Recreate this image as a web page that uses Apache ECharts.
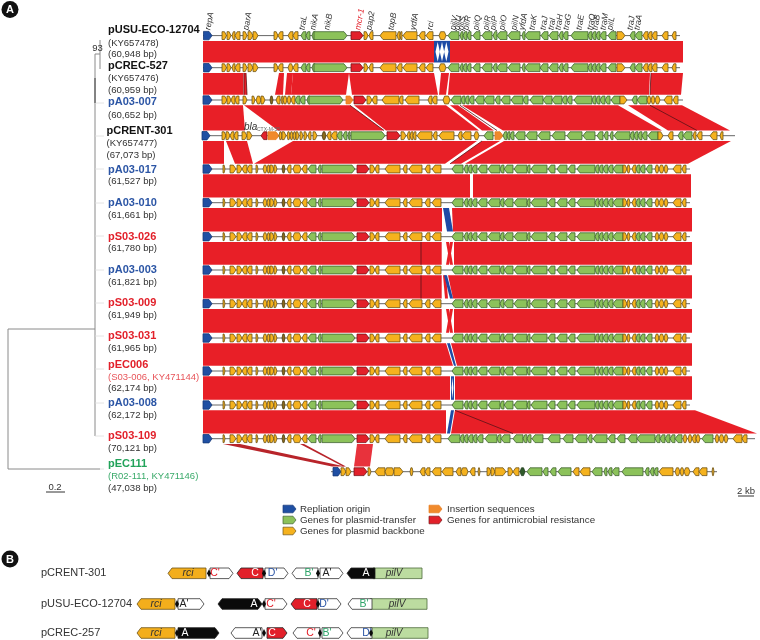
<!DOCTYPE html>
<html><head><meta charset="utf-8">
<style>html,body{margin:0;padding:0;background:#fff}#c{width:760px;height:640px}</style>
<script src="https://cdn.jsdelivr.net/npm/echarts@6/dist/echarts.min.js"></script>
</head><body><div id="c"></div>
<script>
// ---- plasmid tracks (position along map, in figure units) ----
const trackNames = ["pUSU-ECO-12704","pCREC-527","pA03-007","pCRENT-301","pA03-017","pA03-010","pS03-026","pA03-003","pS03-009","pS03-031","pEC006","pA03-008","pS03-109","pEC111"];
const trackAcc = ["(KY657478)","(KY657476)","","(KY657477)","","","","","","","(S03-006, KY471144)","","","(R02-111, KY471146)"];
const trackLen = ["(60,948 bp)","(60,959 bp)","(60,652 bp)","(67,073 bp)","(61,527 bp)","(61,661 bp)","(61,780 bp)","(61,821 bp)","(61,949 bp)","(61,965 bp)","(62,174 bp)","(62,172 bp)","(70,121 bp)","(47,038 bp)"];
const trackGroup = ["k","k","b","k","b","b","r","b","r","r","r","b","r","g"];
const trackY = [35.6,67.7,100,135.7,169,202.7,236.7,270,303.7,338,371,405,438.7,471.7];
const trackSpan = [[203,680],[203,680],[203,683],[202,735],[203,690],[203,690],[203,690],[203,690],[203,690],[203,690],[203,690],[203,690],[203,755],[331,717]];
const nameY = [30,66,102,131,170,202.5,236.5,270,302.5,336,365,402.5,436,464];
const accY = [43,78.5,0,143.5,0,0,0,0,0,0,377.5,0,0,476];
const lenY = [54,90,115,155,181.5,215,248.5,282.5,315,348,388.5,415,448,488];
const nameX = [108,108,108,106.5,108,108,108,108,108,108,108,108,108,108];

// genes: [type, start, end, direction]
const genesUsuA = [["b",203.5,212,1],["o",222,226.5,1],["o",227,231,1],["o",232,235,-1],["o",235,240,-1],["o",243,247,1],["o",248,253,1],["o",253,258,1],["o",274,278,1],["o",278,283,-1],["o",288,293,-1],["o",293,298,-1],["g",301,306,-1],["g",306,310,-1],["g",312,315,-1],["g",314,347,1],["r",351,363,1],["o",364,368,1],["o",369,373,-1],["o",380,396,-1],["o",397,400,-1],["o",400,402,-1],["o",403,417,-1],["o",419,425,-1],["o",426,433,-1],["o",439,446,0],["g",448,459,-1],["g",460,463,-1],["g",463,467,-1],["g",467,471,-1],["g",473,480,-1],["g",482,492,-1],["g",493,497,-1],["g",497,507,-1],["g",508,520,-1],["g",522,525,-1],["g",525,540,-1],["g",541,548,-1],["g",549,558,-1],["g",559,563,-1],["g",563,568,-1],["g",571,588,-1],["g",588,592,-1],["g",592,596,-1],["g",596,600,-1],["g",600,606,-1],["g",608,616,-1],["o",617,625,1],["g",630,635,-1],["g",635,642,-1],["o",643,648,-1],["o",648,652,-1],["o",652,657,-1],["o",662,668,-1],["o",672,676,-1]];
const genesCrec = [["b",203.5,212,1],["o",222,226.5,1],["o",227,231,1],["o",232,235,-1],["o",235,240,-1],["o",243,247,1],["o",248,253,1],["o",253,258,1],["o",274,278,1],["o",278,283,-1],["o",288,293,0],["o",293,298,-1],["g",301,306,-1],["g",306,310,-1],["g",312,315,-1],["g",314,347,1],["r",351,363,1],["o",364,368,1],["o",369,373,-1],["o",380,396,-1],["o",397,402,-1],["o",403,417,-1],["o",419,425,-1],["o",426,433,-1],["o",439,446,0],["g",448,459,-1],["g",460,463,-1],["g",463,467,-1],["g",467,471,-1],["g",473,480,-1],["g",482,492,-1],["g",493,497,-1],["g",497,507,-1],["g",508,520,-1],["g",522,525,-1],["g",540,548,-1],["g",525,540,-1],["g",549,558,-1],["g",559,563,-1],["g",563,568,-1],["g",571,588,-1],["g",588,592,-1],["g",592,596,-1],["g",596,600,-1],["g",600,606,-1],["g",608,616,-1],["o",617,625,1],["g",630,635,-1],["g",635,642,-1],["o",643,648,-1],["o",648,652,-1],["o",652,657,-1],["o",662,668,-1],["o",672,676,-1]];
const genesA007 = [["b",203,212,1],["o",222,227,1],["o",227,231,1],["o",231,235,-1],["o",235,239,-1],["o",243,247,1],["o",252,255,1],["o",256,261,0],["o",261,265,1],["d",270,273,0],["o",276,280,-1],["o",281,283,-1],["o",283,287,0],["o",287,291,0],["o",291,295,-1],["g",295,300,-1],["g",300,305,-1],["g",307,310,-1],["g",309,343,1],["i",346,353,1],["r",354,366,1],["o",367,372,1],["o",372,377,-1],["o",382,399,-1],["o",399,403,-1],["o",405,419,-1],["o",428,432,-1],["o",432,437,-1],["o",443,450,0],["g",451,461,-1],["g",461,465,-1],["g",465,469,-1],["g",469,474,-1],["g",475,484,-1],["g",484,494,-1],["g",495,500,-1],["g",501,510,-1],["g",511,523,-1],["g",523,528,-1],["g",530,543,-1],["g",543,552,-1],["g",552,562,-1],["g",562,567,-1],["g",567,572,-1],["g",574,592,-1],["g",592,596,-1],["g",596,600,-1],["g",600,605,-1],["g",605,610,-1],["g",611,620,-1],["o",620,627,1],["g",632,637,-1],["g",637,647,-1],["o",647,651,0],["o",651,655,0],["o",655,660,0],["o",664,672,-1],["o",673,678,-1]];
const genesCrent = [["b",202,210,1],["o",222,226,1],["o",226,230,1],["o",230,234,-1],["o",234,238,-1],["o",242,247,1],["o",247,252,1],["r",261,267,-1],["i",268,279,1],["o",279,282,0],["o",282,286,1],["o",287,290,0],["o",290,293,0],["o",293,296,0],["o",296,299,1],["o",300,303,1],["o",304,307,1],["o",308,311,-1],["o",313,317,1],["d",322,326,0],["o",327,331,-1],["o",331,337,-1],["g",337,342,-1],["g",343,347,-1],["g",348,350,-1],["g",351,385,1],["r",387,400,1],["o",401,406,1],["o",407,410,-1],["o",410,413,-1],["o",413,416,-1],["o",417,432,-1],["o",433,437,-1],["o",439,454,-1],["o",458,462,-1],["o",462,471,-1],["o",474,479,0],["g",484,493,-1],["i",495,503,1],["g",503,507,-1],["g",507,510,-1],["g",510,514,-1],["g",515,525,-1],["g",526,537,-1],["g",538,550,-1],["g",552,565,-1],["g",567,582,-1],["g",583,595,-1],["g",597,603,-1],["g",604,608,-1],["g",610,613,-1],["g",614,630,-1],["g",630,634,-1],["g",634,638,-1],["g",638,642,-1],["g",642,647,-1],["g",648,658,-1],["o",658,663,1],["o",668,673,-1],["g",678,683,-1],["g",683,692,-1],["o",693,696,-1],["o",697,702,-1],["o",710,717,-1],["o",720,723,-1]];
const genesLeft = [["b",203,212,1],["o",223,225,1],["o",230,236,1],["o",237,242,1],["o",242,247,-1],["o",247,252,-1],["o",256,258,1],["o",263,267,0],["o",267,270,0],["o",270,274,1],["o",274,277,1],["d",282,285,0],["o",287,291,-1],["o",293,301,0],["o",302,307,-1],["g",308,316,-1],["g",318,321,-1],["g",322,355,1],["r",357,369,1],["o",370,375,1],["o",375,379,-1],["o",385,400,-1],["o",403,407,-1],["o",409,422,-1],["o",425,430,-1],["o",432,441,-1]];
const genesRight017 = [["g",452,463,-1],["g",464,468,-1],["g",468,472,-1],["g",472,477,-1],["g",478,487,-1],["g",488,500,-1],["g",500,504,-1],["g",504,513,-1],["g",514,527,-1],["g",527,530,-1],["g",531,547,-1],["g",548,555,-1],["g",557,567,-1],["g",568,575,-1],["g",577,595,-1],["g",595,599,-1],["g",599,603,-1],["g",603,608,-1],["g",608,613,-1],["g",613,623,-1],["o",623,627,1],["o",627,630,0],["o",632,636,-1],["g",636,640,-1],["g",640,645,-1],["g",646,652,-1],["o",655,659,0],["o",659,664,0],["o",664,668,0],["o",673,681,-1],["o",682,686,-1]];
const genesRight109 = [["g",448,460,-1],["g",460,464,-1],["g",464,468,-1],["g",468,473,-1],["g",473,477,-1],["g",477,483,-1],["g",485,497,-1],["g",497,501,-1],["g",501,510,-1],["g",513,523,-1],["g",523,527,-1],["g",527,531,-1],["g",532,543,-1],["g",548,560,-1],["g",563,573,-1],["g",575,587,-1],["g",588,592,-1],["g",593,607,-1],["g",608,615,-1],["g",617,625,-1],["g",628,637,-1],["g",637,655,-1],["g",655,660,-1],["g",660,665,-1],["g",665,670,-1],["g",670,675,-1],["g",675,682,-1],["o",683,687,0],["o",688,692,0],["o",692,696,-1],["o",696,700,0],["g",702,713,-1],["o",715,719,0],["o",719,724,0],["o",724,728,0],["o",733,742,-1],["o",742,747,-1]];
const genesEc111 = [["b",333,341,1],["o",341,346,1],["o",346,351,1],["r",354,367,1],["o",368,371,1],["o",375,385,-1],["o",385,394,0],["o",394,403,1],["o",410,413,0],["o",420,425,-1],["o",425,430,-1],["o",432,441,-1],["o",442,453,-1],["o",456,461,-1],["o",461,468,0],["o",470,475,-1],["o",478,480,0],["o",487,491,1],["o",491,495,1],["o",495,506,1],["o",508,513,1],["o",513,519,-1],["k",520,525,0],["g",527,542,-1],["g",543,548,-1],["g",550,556,-1],["g",558,571,-1],["o",573,579,-1],["o",580,590,-1],["g",592,602,-1],["g",604,607,-1],["g",608,612,-1],["g",612,619,-1],["g",622,643,-1],["g",645,649,-1],["g",650,654,-1],["g",654,658,-1],["o",659,673,-1],["o",675,680,0],["o",680,684,0],["o",684,690,0],["o",693,699,-1],["o",699,707,-1],["o",712,714,0]];
const genesLate = [genesUsuA,genesCrec,genesA007,genesCrent,genesLeft.concat(genesRight017),genesLeft.concat(genesRight017),genesLeft.concat(genesRight017),genesLeft.concat(genesRight017),genesLeft.concat(genesRight017),genesLeft.concat(genesRight017),genesLeft.concat(genesRight017),genesLeft.concat(genesRight017),genesLeft.concat(genesRight109),genesEc111];

// ---- homology ribbons: [gap row, topA, topB, bottomA, bottomB] ----
const ribbonsRed = [
[0,203,434,203,434],[0,450,683,450,683],
[1,203,243,203,243],[1,243.5,246,243.5,247],[1,279,284,275,283],[1,287,293,285,291],[1,293,349,291,346],[1,349,434,352,438],[1,441,449,439,446],[1,450,650,448,649],[1,651,683,650,681],
[2,203,243,203,245],[2,244,350,278,384],[2,354,446,386,479],[2,450,458,482,494],[2,462,618,503,662],[2,628,682,668,730],
[3,203,224,203,224],[3,226,247,235,253],[3,293,477,254,445],[3,482,500,450,461],[3,504,731,465,688],
[4,203,470,203,470],[4,473,691,473,691],
[5,203,442,203,442],[5,452,692,453,692],
[6,203,441.7,203,441.7],[6,446,449,450,453],[6,450,453,446,449],[6,454,692,454,692],
[7,203,441.7,203,441.7],[7,443,446,445,448],[7,448,692,453,692],
[8,203,441.7,203,441.7],[8,446,449,450,453],[8,450,453,446,449],[8,454,692,454,692],
[9,203,446,203,453],[9,451,692,457,692],
[10,203,450,203,450],[10,455,692,455,692],
[11,203,446,203,446],[11,455,695,451,757]];
const ribbonsBlue = [[0,434,450,434,450],[5,443,449,447,453],[7,444,447,450,453],[9,447,450,454,456],[10,451,454,451,454],[11,451,454,447,450]];
const ribbonsThin = [[12,223,240,332,345],[12,300,304,343,346]];
const ribbonsPale = [[12,357,373,354,370]];
const twists = [[0,437.7,2.2],[0,442,2.2],[0,446.3,2.2],[10,452.5,0.9]];
const darkLines = [[1,244,244],[1,246,247],[1,651,650],[2,350,384],[2,460,497],[2,650,697],[3,482,450],[6,421,421],[7,421,421],[11,455,513]];

// ---- tree ----
const treeLines = [[95,54,95,436],[95,54,100,54],[100,40,100,69],[8,329,95,329],[8,329,8,469],[8,469,100,469]];
const treeTicks = [[95,103,104,103],[95,136,104,136],[95,169,104,169],[95,203,104,203],[95,236,104,236],[95,270,104,270],[95,303,104,303],[95,336,104,336],[95,369,104,369],[95,403,104,403],[95,436,104,436],[100,469,104,469]];
const treeDark = [[95,78,95,103]];
const scaleBars = [[46,492,65,492],[738,496,754,496]];
const scaleText = [["0.2",55,487],["2 kb",746,491],["93",97.5,48]];

// ---- gene names along the top ----
const topNames = ["repA","parA","traL","nikA","nikB","mcr-1","pap2","topB","ydfA","rci","pilV","pilU","pilS","pilR","pilQ","pilR","pilP","pilO","pilN","yfdA","traK","traJ","traI","traH","traG","traE","traQ","traB","traM","pilL","traJ","traA"];
const topX = [208,246,302,313,327,358,369,391,413,430,453,457,461,466,476,486,493,502,514,522,532,543,551,558,566,579,590,595,603,610,630,637];

// ---- legend ----
const legendTypes = ["b","g","o","i","r"];
const legendText = ["Repliation origin","Genes for plasmid-transfer","Genes for plasmid backbone","Insertion sequences","Genes for antimicrobial resistance"];
const legendX = [283,283,283,429,429];
const legendY = [509,520,531,509,520];

// ---- panel B ----
const panelBNames = ["pCRENT-301","pUSU-ECO-12704","pCREC-257"];
const panelBY = [573.3,604,633];
const partsRow = [0,0,0,0,0,0,0, 1,1,1,1,1,1,1, 2,2,2,2,2,2,2];
const partsFrom = [168,210,237,265,292,320,347, 137,178,218,265,291,318,348, 137,178,231,267,293,322,347];
const partsTo = [206,233,263,288,318,343,375, 175,204,262,287,317,341,372, 175,219,262,287,320,343,372];
const partsDir = [-1,1,-1,1,-1,1,-1, -1,1,2,1,-1,1,-1, -1,1,-1,1,-1,1,-1];
const partsKind = ["rci","wh","red","wh","wh","wh","blk", "rci","wh","blk","wh","red","wh","wh", "rci","blk","wh","red","wh","wh","wh"];
const partText = ["rci","C'","C","D'","B'","A'","A", "rci","A'","A","C'","C","D'","B'", "rci","A","A'","C","C'","B'","D'"];
const partTextX = [188,215,255,272.6,309,327,366, 156,184,254,271,307,324,364, 156,185,257,272,311,327,367];
const partTextKind = ["i","r","w","b","g","k","w", "i","k","w","r","w","b","g", "i","w","k","w","r","g","b"];
const pilvRow = [0,1,2];
const pilvFrom = [373,370,370];
const pilvTo = [422,427,428];
const pilvTextX = [394,397,394];
const dotsRow = [0,0,0,0,1,1,1,2,2,2,2];
const dotsX = [209,264,318,373,177,264,318,177,264,320,371];

// ---- look ----
const geneFill = {o:"#f5b21e",g:"#8cc25a",r:"#e2202a",b:"#1f4fa3",i:"#f08a2c",d:"#8a6a1a",k:"#2f5a2a"};
const geneLine = {o:"#6d5318",g:"#3f6330",r:"#7a1216",b:"#173a78",i:"#e87d1e",d:"#4a3a10",k:"#1e3a1c"};
const nameColor = {k:"#111",b:"#2b55a5",r:"#e2202a",g:"#22a35a"};
const accColor = {k:"#333",r:"#e8555a",g:"#3aaa6a"};
const sans = '"Liberation Sans",Arial,sans-serif';

function geneShape(api,g,y,h){
  const [t,a,b,d]=g, L=b-a, head=Math.min(3,L*0.45);
  let pts;
  if(d>0) pts=[[a,y-h],[b-head,y-h],[b,y],[b-head,y+h],[a,y+h]];
  else if(d<0) pts=[[b,y-h],[a+head,y-h],[a,y],[a+head,y+h],[b,y+h]];
  else { const e=Math.min(1.6,L*0.3); pts=[[a+e,y-h],[b-e,y-h],[b,y],[b-e,y+h],[a+e,y+h],[a,y]]; }
  return pts.map(p=>api.coord(p));
}
function poly(points,fill,stroke,lw,op){
  return {type:'polygon',shape:{points},silent:true,style:{fill,stroke:stroke||null,lineWidth:lw||0,opacity:op==null?1:op}};
}
function ln(p,q,stroke,lw,op){
  return {type:'line',shape:{x1:p[0],y1:p[1],x2:q[0],y2:q[1]},silent:true,style:{stroke,lineWidth:lw,opacity:op==null?1:op}};
}
function txt(p,text,font,fill,align,rot,base){
  return {type:'text',x:p[0],y:p[1],rotation:rot||0,silent:true,style:{text,font,fill,align:align||'left',verticalAlign:base||'middle'}};
}
function customSeries(count,fn,z){
  const data=[]; for(let i=0;i<count;i++) data.push([i]);
  return {type:'custom',coordinateSystem:'cartesian2d',data,clip:false,z:z,animation:false,silent:true,
    renderItem:(p,api)=>fn(p.dataIndex,api)};
}
const rowTop=i=>trackY[i]+5.3, rowBot=i=>trackY[i+1]-5.2;
function ribbonSeries(list,fill,z,op){
  return customSeries(list.length,(i,api)=>{
    const [r,a,b,c,d]=list[i];
    return poly([[a,rowTop(r)],[b,rowTop(r)],[d,rowBot(r)],[c,rowBot(r)]].map(q=>api.coord(q)),fill,null,0,op);
  },z);
}
const allGenes=[]; genesLate.forEach((gs,ti)=>gs.forEach(g=>allGenes.push([ti,g])));

const series=[
  ribbonSeries(ribbonsRed,"#e81f27",2),
  ribbonSeries(ribbonsBlue,"#1e4aa5",3),
  ribbonSeries(ribbonsThin,"#b8242a",3),
  ribbonSeries(ribbonsPale,"#e8323c",3),
  customSeries(twists.length,(i,api)=>{
    const [r,c,w]=twists[i],t=rowTop(r),b=rowBot(r),m=(t+b)/2;
    return poly([[c,t+1],[c+w,m],[c,b-1],[c-w,m]].map(q=>api.coord(q)),"#ffffff");
  },4),
  customSeries(darkLines.length,(i,api)=>{
    const [r,a,b]=darkLines[i];
    return ln(api.coord([a,rowTop(r)]),api.coord([b,rowBot(r)]),"#5a1216",0.8);
  },4),
  customSeries(trackY.length,(i,api)=>ln(api.coord([trackSpan[i][0],trackY[i]]),api.coord([trackSpan[i][1],trackY[i]]),"#666",1),5),
  customSeries(allGenes.length,(i,api)=>{
    const [ti,g]=allGenes[i];
    return poly(geneShape(api,g,trackY[ti],g[0]==='b'?4.2:3.9),geneFill[g[0]],geneLine[g[0]],0.8);
  },6),
  customSeries(treeLines.length,(i,api)=>{const s=treeLines[i];return ln(api.coord([s[0],s[1]]),api.coord([s[2],s[3]]),"#8a8a8a",1);},5),
  customSeries(treeDark.length,(i,api)=>{const s=treeDark[i];return ln(api.coord([s[0],s[1]]),api.coord([s[2],s[3]]),"#333",0.9);},6),
  customSeries(treeTicks.length,(i,api)=>{const s=treeTicks[i];return ln(api.coord([s[0],s[1]]),api.coord([s[2],s[3]]),"#dddddd",0.8);},5),
  customSeries(scaleBars.length,(i,api)=>{const s=scaleBars[i];return ln(api.coord([s[0],s[1]]),api.coord([s[2],s[3]]),"#333",1);},5),
  customSeries(scaleText.length,(i,api)=>{const s=scaleText[i];return txt(api.coord([s[1],s[2]]),s[0],'9.5px '+sans,"#333",'center');},7),
  customSeries(trackNames.length,(i,api)=>txt(api.coord([nameX[i],nameY[i]]),trackNames[i],'bold 11px '+sans,nameColor[trackGroup[i]]),7),
  customSeries(trackNames.length,(i,api)=>trackAcc[i]?txt(api.coord([nameX[i],accY[i]]),trackAcc[i],'9.5px '+sans,accColor[trackGroup[i]]||"#333"):{type:'group',children:[]},7),
  customSeries(trackNames.length,(i,api)=>txt(api.coord([nameX[i],lenY[i]]),trackLen[i],'9.6px '+sans,"#333"),7),
  customSeries(topNames.length,(i,api)=>txt(api.coord([topX[i],30]),topNames[i],'italic 8.5px '+sans,topNames[i]==='mcr-1'?"#e2202a":"#333",'left',Math.PI*80/180),7),
  customSeries(1,(i,api)=>txt(api.coord([244,127]),"bla",'italic 10px '+sans,"#333"),7),
  customSeries(1,(i,api)=>txt(api.coord([257,129.5]),"CTX-M-55",'5px '+sans,"#666"),7),
  customSeries(legendTypes.length,(i,api)=>{
    const t=legendTypes[i];
    return poly(geneShape(api,[t,legendX[i],legendX[i]+13,1],legendY[i],3.8),geneFill[t],geneLine[t],0.7);
  },6),
  customSeries(legendText.length,(i,api)=>txt(api.coord([legendX[i]+(i<3?17:18),legendY[i]]),legendText[i],'9.8px '+sans,"#333"),7),
  customSeries(2,(i,api)=>({type:'circle',shape:{cx:api.coord([10,0])[0],cy:api.coord([0,[9.5,559][i]])[1],r:8.5},silent:true,style:{fill:"#111"}}),7),
  customSeries(2,(i,api)=>txt(api.coord([10,[10,559.5][i]]),["A","B"][i],'bold 11px '+sans,"#fff",'center'),8),
  customSeries(panelBNames.length,(i,api)=>txt(api.coord([41,panelBY[i]]),panelBNames[i],'11px '+sans,"#333"),7),
  customSeries(pilvRow.length,(i,api)=>{
    const y=panelBY[pilvRow[i]],h=5.3;
    return poly([[pilvFrom[i],y-h],[pilvTo[i],y-h],[pilvTo[i],y+h],[pilvFrom[i],y+h]].map(q=>api.coord(q)),"#bcdca0","#4d6a3a",0.8);
  },6),
  customSeries(partsRow.length,(i,api)=>{
    const y=panelBY[partsRow[i]],a=partsFrom[i],b=partsTo[i],d=partsDir[i],h=5.3,e=4;
    let pts;
    if(d===1) pts=[[a,y-h],[b-e,y-h],[b,y],[b-e,y+h],[a,y+h]];
    else if(d===-1) pts=[[b,y-h],[a+e,y-h],[a,y],[a+e,y+h],[b,y+h]];
    else pts=[[a+e,y-h],[b-e,y-h],[b,y],[b-e,y+h],[a+e,y+h],[a,y]];
    const k=partsKind[i];
    const fill={rci:"#f3ae1c",wh:"#ffffff",red:"#e2202a",blk:"#0a0a0a"}[k];
    return poly(pts.map(q=>api.coord(q)),fill,k==='wh'?"#333":(k==='rci'?"#6d5318":"#222"),0.8);
  },7),
  customSeries(dotsX.length,(i,api)=>{
    const y=panelBY[dotsRow[i]],x=dotsX[i];
    return poly([[x,y-4],[x+2,y],[x,y+4],[x-2,y]].map(q=>api.coord(q)),"#0a0a0a");
  },8),
  customSeries(partText.length,(i,api)=>{
    const k=partTextKind[i];
    const col={i:"#333",r:"#e2202a",w:"#fff",b:"#2b55a5",g:"#2fa56a",k:"#222"}[k];
    return txt(api.coord([partTextX[i],panelBY[partsRow[i]]]),partText[i],(k==='i'?'italic ':'')+'10.5px '+sans,col,'center');
  },9),
  customSeries(pilvRow.length,(i,api)=>txt(api.coord([pilvTextX[i],panelBY[pilvRow[i]]]),"pilV",'italic 10px '+sans,"#333",'center'),9)
];

const chart=echarts.init(document.getElementById('c'),null,{renderer:'canvas'});
chart.setOption({
  animation:false,backgroundColor:"#fff",
  grid:{left:0,right:0,top:0,bottom:0},
  xAxis:{type:'value',min:0,max:760,show:false},
  yAxis:{type:'value',min:0,max:640,inverse:true,show:false},
  tooltip:{show:false},legend:{show:false},
  series
});
</script></body></html>
